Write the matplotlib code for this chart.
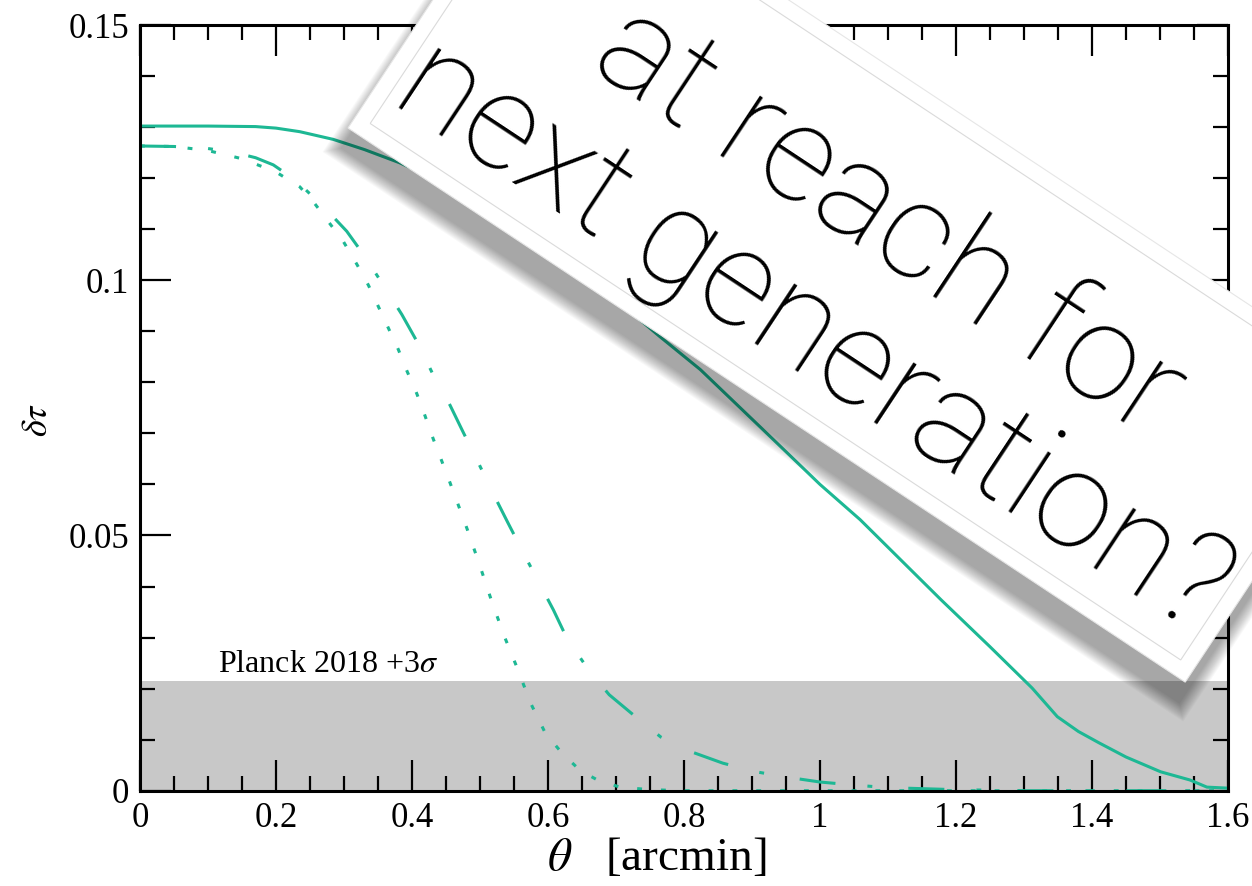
import numpy as np
import matplotlib
matplotlib.use("Agg")
import matplotlib.pyplot as plt
from matplotlib.patches import Rectangle
from matplotlib.transforms import Affine2D
from matplotlib.ticker import FixedLocator, MultipleLocator

plt.rcParams['font.family'] = ['Liberation Serif', 'DejaVu Serif']
plt.rcParams['mathtext.fontset'] = 'stix'

# -------- profiles (theta in arcmin, delta tau) --------
theta_solid = [0, 0.1, 0.17, 0.2, 0.235, 0.284, 0.33, 0.382, 0.45, 0.5, 0.55, 0.6,
               0.65, 0.7, 0.765, 0.824, 0.9, 1.0, 1.059, 1.178, 1.25, 1.312, 1.349,
               1.38, 1.41, 1.45, 1.501, 1.544, 1.569, 1.6]
tau_solid = [0.1302, 0.1302, 0.1301, 0.1298, 0.1291, 0.1276, 0.1256, 0.1230, 0.1188,
             0.1152, 0.1112, 0.1068, 0.1018, 0.0962, 0.0889, 0.0825, 0.0728, 0.0600,
             0.0531, 0.0374, 0.0282, 0.0201, 0.0145, 0.0116, 0.0094, 0.0066, 0.0037,
             0.0021, 0.0007, 0.0005]

theta_dot = [0, 0.05, 0.1, 0.15, 0.2, 0.235, 0.257, 0.299, 0.319, 0.336, 0.35, 0.365,
             0.38, 0.392, 0.407, 0.419, 0.431, 0.444, 0.456, 0.468, 0.481, 0.5, 0.516,
             0.535, 0.553, 0.575, 0.596, 0.621, 0.647, 0.674, 0.706, 0.75, 0.8, 1.0, 1.6]
tau_dot = [0.1263, 0.1262, 0.1254, 0.1238, 0.1212, 0.1183, 0.1150, 0.1076, 0.1031,
           0.0990, 0.0950, 0.0907, 0.0864, 0.0824, 0.0778, 0.0735, 0.0690, 0.0645,
           0.0603, 0.0560, 0.0513, 0.0440, 0.0376, 0.0305, 0.0246, 0.0170, 0.0113,
           0.0073, 0.0040, 0.0020, 0.0007, 0.0002, 0.0, 0.0, 0.0]

theta_dd = [0, 0.05, 0.1, 0.137, 0.17, 0.196, 0.23, 0.257, 0.28, 0.304, 0.331, 0.357,
            0.385, 0.409, 0.431, 0.456, 0.475, 0.497, 0.519, 0.541, 0.57, 0.608, 0.628,
            0.66, 0.69, 0.726, 0.766, 0.807, 0.857, 0.906, 0.954, 1.0, 1.05, 1.1, 1.2,
            1.3, 1.6]
tau_dd = [0.1263, 0.1262, 0.1258, 0.1251, 0.1240, 0.1226, 0.1195, 0.1160, 0.1130,
          0.1096, 0.1046, 0.0992, 0.0933, 0.0876, 0.0815, 0.0755, 0.0703, 0.0644,
          0.0583, 0.0525, 0.0450, 0.0354, 0.0298, 0.0236, 0.0188, 0.0148, 0.0105,
          0.0078, 0.0054, 0.0037, 0.0026, 0.0017, 0.0011, 0.0006, 0.0002, 0.0, 0.0]

planck_limit = 0.0215
planck_label = r'Planck 2018 +3$\sigma$'

xticks = [0, 0.2, 0.4, 0.6, 0.8, 1.0, 1.2, 1.4, 1.6]
xtick_labels = ["0", "0.2", "0.4", "0.6", "0.8", "1", "1.2", "1.4", "1.6"]
yticks = [0, 0.05, 0.1, 0.15]
ytick_labels = ["0", "0.05", "0.1", "0.15"]

note = "at reach for\nnext generation?"

teal = '#1db894'

# -------- figure --------
W, H = 1252, 886
fig = plt.figure(figsize=(W / 100, H / 100), dpi=100)
ax = fig.add_axes([140 / W, 95.3 / H, 1088 / W, 765.7 / H])

ax.axhspan(0, planck_limit, color='#c8c8c8', lw=0, zorder=0)
ax.text(0.115, planck_limit + 0.0018, planck_label, fontsize=23, va='baseline')

ax.plot(theta_solid, tau_solid, color=teal, lw=2.2)
ax.plot(theta_dot, tau_dot, color=teal, lw=2.2, linestyle=(0, (1.6, 6.2)))
ax.plot(theta_dd, tau_dd, color=teal, lw=2.2, linestyle=(0, (11.8, 10.5, 1.6, 11.8)))

ax.set_xlim(0, 1.6)
ax.set_ylim(0, 0.15)
ax.xaxis.set_major_locator(FixedLocator(xticks))
ax.set_xticklabels(xtick_labels)
ax.yaxis.set_major_locator(FixedLocator(yticks))
ax.set_yticklabels(ytick_labels)
ax.xaxis.set_minor_locator(MultipleLocator(0.05))
ax.yaxis.set_minor_locator(MultipleLocator(0.01))
ax.tick_params(which='both', direction='in', top=True, right=True, width=1.6,
               labelsize=25)
ax.tick_params(which='major', length=22, pad=8)
ax.tick_params(which='minor', length=11)
for s in ax.spines.values():
    s.set_linewidth(2.2)

ax.set_xlabel(r'$\theta$   [arcmin]', fontsize=34)
ax.xaxis.set_label_coords((657 - 140) / 1088, -0.06)
ax.set_ylabel(r'$\delta\tau$', fontsize=26)
ax.yaxis.set_label_coords(-0.078, 0.484)

# -------- tilted note card with drop shadow --------
px = Affine2D().scale(1 / W, 1 / H) + fig.transFigure
card_xy = np.array([348.0, 758.0])
card_len, card_wid, card_ang = 1004.0, 350.0, -33.5
t = np.deg2rad(card_ang)
u = np.array([np.cos(t), np.sin(t)])
v = np.array([-np.sin(t), np.cos(t)])


def card(pad, shift=(0, 0), **kw):
    xy = card_xy - pad * u - pad * v + np.array(shift)
    return Rectangle(xy, card_len + 2 * pad, card_wid + 2 * pad, angle=card_ang,
                     transform=px, **kw)


for k in range(14):
    fig.add_artist(card(14 - k, shift=(-6, -20), facecolor='black', edgecolor='none',
                        alpha=0.028, zorder=10))
fig.add_artist(card(0, facecolor='white', edgecolor='#e6e6e6', lw=0.8, zorder=11))
fig.add_artist(card(-16, facecolor='none', edgecolor='#dadada', lw=0.8, zorder=11))

fig.text(850 / W, (H - 280) / H, note, rotation=-33.5, rotation_mode='anchor',
         ha='center', va='center', multialignment='center', fontsize=98,
         family='Roboto', weight='light', linespacing=1.08, zorder=12)

fig.savefig('out.png', dpi=100)
